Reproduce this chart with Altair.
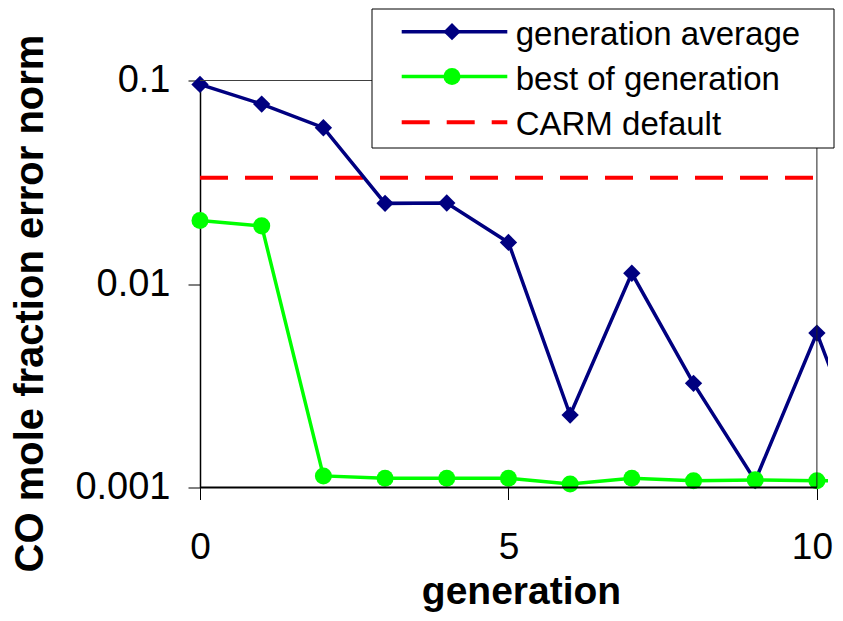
import altair as alt
import pandas as pd

# ---- data ----
generations = [0, 1, 2, 3, 4, 5, 6, 7, 8, 9, 10, 11]
gen_average = [0.0957, 0.0766, 0.0586, 0.0249, 0.0250, 0.0160, 0.00227,
               0.01129, 0.00325, 0.00108, 0.00574, 0.00091]
best_of_gen = [0.0205, 0.0193, 0.00114, 0.00111, 0.00111, 0.00111, 0.00104,
               0.00111, 0.00108, 0.00109, 0.00108, 0.00108]
carm_default = [0.0333]
series_labels = ["generation average", "best of generation", "CARM default"]
series_colors = ["#000080", "#00FF00", "#FF0000"]
x_ticks = [0, 5, 10]
y_ticks = [0.1, 0.01, 0.001]

FONT = "Liberation Sans"
W, H = 628, 407
X_MAX = 10.18

df = pd.DataFrame({"generation": generations, "avg": gen_average, "best": best_of_gen})
carm_df = pd.DataFrame({"carm": carm_default})
one = pd.DataFrame({"k": [0]})

x_scale = alt.Scale(domain=[0, X_MAX], nice=False, zero=False)
y_scale = alt.Scale(type="log", domain=[y_ticks[-1], y_ticks[0]], nice=False)

x_axis = alt.Axis(values=x_ticks, format="d", grid=False, domain=False,
                  tickSize=12, tickColor="#000000", tickWidth=1,
                  labelFont=FONT, labelFontSize=37, labelColor="#000000",
                  labelPadding=30, labelFlush=False,
                  labelOffset={"condition": {"test": "datum.value == 10", "value": -5},
                               "value": 0},
                  title="generation", titleFont=FONT, titleFontSize=39,
                  titleFontWeight="bold", titleColor="#000000",
                  titleX=321, titleY=115.5, titleBaseline="alphabetic",
                  titleAlign="center")
y_axis = alt.Axis(values=y_ticks, format=".3~f", grid=False, domain=True,
                  domainColor="#000000", domainWidth=1.5,
                  tickSize=12, tickColor="#000000", tickWidth=1,
                  labelFont=FONT, labelFontSize=38, labelColor="#000000",
                  labelPadding=18, labelFlush=False,
                  title="CO mole fraction error norm", titleFont=FONT,
                  titleFontSize=40, titleFontWeight="bold", titleColor="#000000",
                  titleAngle=270, titleX=-158, titleY=222.5,
                  titleBaseline="alphabetic", titleAlign="center")


def X(field):
    return alt.X(field, scale=x_scale, axis=x_axis)


def Y(field):
    return alt.Y(field, scale=y_scale, axis=y_axis)


base = alt.Chart(df)

carm_rule = alt.Chart(carm_df).mark_rule(
    color=series_colors[2], strokeWidth=4, strokeDash=[28, 17], clip=True
).encode(x=alt.datum(x_ticks[0]), x2=alt.datum(X_MAX), y=Y("carm:Q"))

avg_line = base.mark_line(color=series_colors[0], strokeWidth=3.5, clip=True).encode(
    x=X("generation:Q"), y=Y("avg:Q"))
avg_pts = base.transform_filter(alt.datum.generation <= x_ticks[-1]).mark_point(
    shape="diamond", filled=True, size=300, color=series_colors[0], opacity=1
).encode(x=X("generation:Q"), y=Y("avg:Q"))

best_line = base.mark_line(color=series_colors[1], strokeWidth=3.5, clip=True).encode(
    x=X("generation:Q"), y=Y("best:Q"))
best_pts = base.transform_filter(alt.datum.generation <= x_ticks[-1]).mark_point(
    shape="circle", filled=True, size=290, color=series_colors[1], opacity=1
).encode(x=X("generation:Q"), y=Y("best:Q"))

# plot frame: top and right borders, bottom axis line (stops at 10)
frame_top = alt.Chart(one).mark_rule(color="#404040", strokeWidth=1).encode(
    x=alt.datum(x_ticks[0]), x2=alt.datum(x_ticks[-1]), y=alt.datum(y_ticks[0]))
frame_right = alt.Chart(one).mark_rule(color="#202020", strokeWidth=1).encode(
    x=alt.datum(x_ticks[-1]), y=alt.datum(y_ticks[-1]), y2=alt.datum(y_ticks[0]))
frame_bottom = alt.Chart(one).mark_rule(color="#000000", strokeWidth=2).encode(
    x=alt.datum(x_ticks[0]), x2=alt.datum(x_ticks[-1]), y=alt.datum(y_ticks[-1]))

# ---- legend (box drawn over the plot, top right) ----
legend_layers = [
    alt.Chart(one).mark_rect(fill="#FFFFFF", stroke="#000000", strokeWidth=1).encode(
        x=alt.value(172), x2=alt.value(634), y=alt.value(-71.5), y2=alt.value(67.5))
]
row_y = [-48.8, -4.0, 41.8]
shapes = ["diamond", "circle", None]
for i, label in enumerate(series_labels):
    ry = row_y[i]
    if shapes[i] is None:
        legend_layers.append(alt.Chart(one).mark_rule(
            color=series_colors[i], strokeWidth=4, strokeDash=[28, 17]).encode(
            x=alt.value(201.7), x2=alt.value(307.3), y=alt.value(ry)))
    else:
        legend_layers.append(alt.Chart(one).mark_rule(
            color=series_colors[i], strokeWidth=3.5).encode(
            x=alt.value(201.7), x2=alt.value(307.3), y=alt.value(ry)))
        legend_layers.append(alt.Chart(one).mark_point(
            shape=shapes[i], filled=True, size=300 if i == 0 else 290,
            color=series_colors[i], opacity=1).encode(
            x=alt.value(252), y=alt.value(ry)))
    legend_layers.append(alt.Chart(one).mark_text(
        text=label, font=FONT, fontSize=33, color="#000000",
        align="left", baseline="alphabetic").encode(
        x=alt.value(315.7), y=alt.value(ry + 13)))

chart = alt.layer(
    carm_rule, avg_line, avg_pts, best_line, best_pts,
    frame_top, frame_right, frame_bottom, *legend_layers
).properties(
    width=W, height=H,
    autosize=alt.AutoSizeParams(type="none"),
    padding={"left": 192, "top": 72.5, "right": 7, "bottom": 125},
    background="#FFFFFF",
).configure_view(stroke=None)

chart.save("out.html", embed_options={"renderer": "svg", "actions": False})
